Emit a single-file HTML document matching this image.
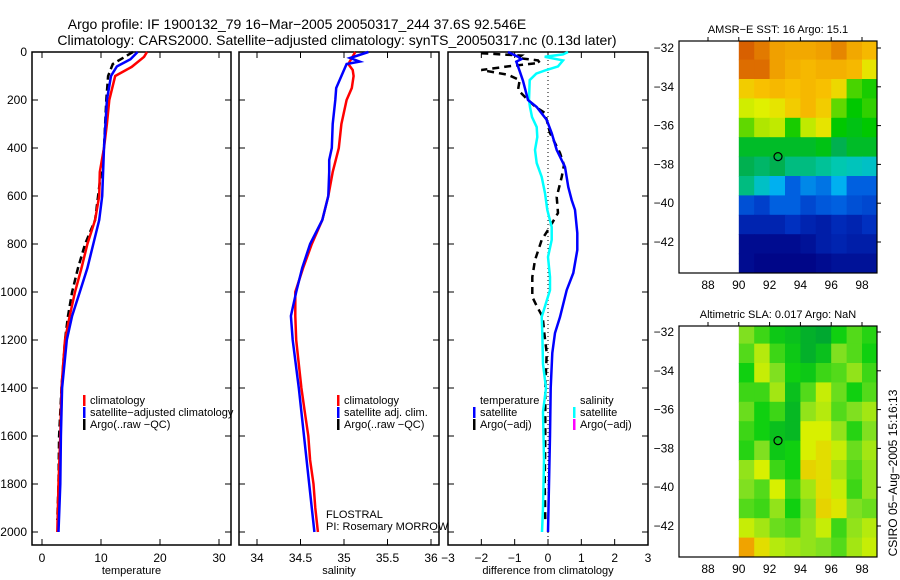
<!DOCTYPE html>
<html><head><meta charset="utf-8"><style>
body{margin:0;background:#fff}
svg{display:block}
text{font-family:"Liberation Sans",sans-serif;fill:#000}
</style></head><body>
<svg id="fig" width="900" height="580" viewBox="0 0 900 580" xmlns="http://www.w3.org/2000/svg">
<rect width="900" height="580" fill="#fff"/>
<text x="297" y="29" font-size="14" text-anchor="middle">Argo profile: IF 1900132_79 16−Mar−2005 20050317_244 37.6S 92.546E</text>
<text x="337" y="45" font-size="14" text-anchor="middle">Climatology: CARS2000. Satellite−adjusted climatology: synTS_20050317.nc (0.13d later)</text>
<g id="g1"></g>
<g id="g2"></g>
<g id="g3"></g>
<g id="m1"></g>
<g id="m2"></g>
<text x="0" y="0" font-size="12" text-anchor="middle" transform="translate(897,473) rotate(-90)">CSIRO 05−Aug−2005 15:16:13</text>
</svg>
<script>
// ---- profile data (depth m, value) ----
const tempClimDepth=[0,20,62,100,200,300,400,500,600,700,800,900,1000,1100,1200,1300,1400,1600,1800,2000];
const tempClim=[17.8,17.3,15.2,12.4,11.4,11.0,10.5,9.8,9.7,9.0,7.7,6.7,5.6,4.7,3.9,3.6,3.3,3.1,2.8,2.6];
const tempSatDepth=[0,30,60,100,200,400,600,700,800,900,1000,1100,1200,1400,1600,1800,2000];
const tempSat=[16.2,15.0,12.7,11.7,11.0,10.5,10.2,9.7,8.7,7.7,6.4,5.1,4.2,3.4,3.2,3.1,2.8];
const tempArgoDepth=[0,50,100,200,400,600,700,800,900,1000,1100,1200,1400,1600,1800,1950];
const tempArgo=[15.4,12.0,11.2,10.9,10.5,9.5,9.0,7.3,6.1,5.1,4.4,3.9,3.3,2.9,2.8,2.6];
const salClimDepth=[0,50,75,100,150,200,300,400,500,600,700,800,900,1000,1100,1200,1300,1400,1500,1600,1700,1800,1900,2000];
const salClim=[35.13,35.05,35.1,35.11,35.09,35.03,34.97,34.94,34.87,34.82,34.75,34.63,34.53,34.44,34.44,34.45,34.48,34.51,34.55,34.59,34.61,34.65,34.67,34.7];
const salSatDepth=[0,25,40,50,100,150,200,300,400,450,500,600,700,800,900,1000,1100,1200,1400,1600,1800,2000];
const salSat=[35.28,35.07,35.18,35.03,34.97,34.91,34.9,34.87,34.86,34.83,34.83,34.82,34.75,34.61,34.52,34.45,34.39,34.41,34.48,34.54,34.6,34.66];
const dTsatDepth=[0,20,30,40,80,120,200,229,283,338,408,479,563,617,658,754,825,921,992,1104,1171,1254,1400,1600,1800,2000];
const dTsat=[-1.2,-0.9,-0.8,-0.95,-0.85,-0.75,-0.6,-0.34,-0.04,0.11,0.26,0.51,0.61,0.71,0.81,0.88,0.88,0.76,0.56,0.36,0.21,0.13,0.08,0.06,0.03,0.0];
const dTargoDepth=[5,15,25,35,45,60,75,95,117,158,200,229,254,338,421,471,521,604,671,742,783,867,938,1021,1063,1104,1171,1254,1400,1600,1800,1950];
const dTargo=[-2.0,-0.8,-0.9,-0.3,-0.25,-1.2,-2.0,-1.2,-0.85,-0.9,-0.6,-0.37,-0.09,0.06,0.36,0.48,0.41,0.26,0.3,0.0,-0.19,-0.39,-0.47,-0.47,-0.32,-0.16,-0.11,-0.04,-0.08,-0.08,-0.1,-0.08];
const dSsatDepth=[0,10,20,35,60,75,90,117,200,229,271,313,354,408,463,521,588,658,729,783,854,938,992,1046,1104,1171,1300,1400,1500,1700,1900,2000];
const dSsat=[0.6,0.45,-0.1,0.45,0.3,-0.05,-0.35,-0.55,-0.57,-0.54,-0.48,-0.34,-0.32,-0.39,-0.34,-0.19,-0.09,-0.02,0.11,0.11,0.0,0.06,0.06,-0.06,-0.19,-0.17,-0.15,-0.06,-0.15,-0.12,-0.15,-0.18];
// ---- map grids: rows from north (-31.6) southward, 1 deg each; cols lon 90..99 ----
const sstGrid=[
[17.6,17.4,17.1,17,17,17.1,17.3,17,16.8],
[17.5,17.5,17.1,16.9,16.8,16.9,16.9,16.8,16.4],
[16.6,16.7,16.8,16.7,16.8,16.7,16.5,15.5,15.3],
[16.2,16.3,16.4,16.6,16.8,16.6,15.6,15.2,15.4],
[15.6,16,16.1,15.3,16.1,16.4,15.2,15.1,15.2],
[15,15,15,15,15,15.1,14.8,15,15],
[14.8,14.7,14.8,14.6,14.6,14.5,14.4,14.3,14.2],
[14.6,14.2,13.8,13.4,13.6,13.5,13.8,13.4,13.4],
[13.2,13,13.4,13.4,13.1,13.3,13.4,13.2,13.1],
[12.6,12.6,12.6,12.8,12.6,12.5,12.7,12.6,12.8],
[12.2,12.2,12.2,12.2,12.3,12.5,12.6,12.5,12.5],
[12.2,12.1,12.1,12.1,12.1,12.2,12.3,12.3,12.3]];
const slaGrid=[
[0.05,0.02,-0.01,-0.02,-0.04,-0.05,0,0.03,0.01],
[0.03,0.08,0.02,-0.01,-0.04,-0.02,0.05,0.03,0.0],
[0.0,0.09,0.05,0.0,-0.01,0.02,0.03,0.06,0.02],
[0.02,0.02,0.07,-0.02,0.03,0.09,0.04,0.0,0.03],
[0.04,0.0,0.02,-0.03,0.06,0.08,0.03,0.05,0.07],
[0.02,0.0,-0.02,-0.03,0.1,0.1,0.06,0.01,0.05],
[0.01,0.05,-0.01,0.0,0.1,0.12,0.09,0.04,0.07],
[0.06,0.1,0.02,0.0,0.13,0.12,0.07,0.03,0.06],
[0.05,0.03,0.1,0.02,0.07,0.12,0.09,0.02,0.06],
[0.03,0.02,0.06,0.0,0.05,0.13,0.11,0.05,0.04],
[0.09,0.07,0.04,0.03,0.06,0.09,0.02,0.06,0.08],
[0.18,0.12,0.08,0.07,0.06,0.05,0.03,0.07,0.09]];
const depthTicks=[0,200,400,600,800,1000,1200,1400,1600,1800,2000];
const tempTicks=[0,10,20,30];
const salTicks=[34,34.5,35,35.5,36];
const salTickLabels=["34","34.5","35","35.5","36"];
const diffTicks=[-3,-2,-1,0,1,2,3];
const lonTicks=[88,90,92,94,96,98];
const latTicks=[-32,-34,-36,-38,-40,-42];
const argoLon=92.546, argoLat=-37.6;

const NS="http://www.w3.org/2000/svg";
function mk(p,tag,a){const e=document.createElementNS(NS,tag);for(const k in a)e.setAttribute(k,a[k]);p.appendChild(e);return e;}
const yD=d=>52+d*0.24;
function panel(g,x0,x1,xs,ticks,labels,xlabel,showY){
  const r=mk(g,'rect',{x:x0,y:52,width:x1-x0,height:493,fill:'none',stroke:'#000','stroke-width':1.5});
  
  ticks.forEach((t,i)=>{const x=xs(t);
    mk(g,'line',{x1:x,x2:x,y1:545,y2:539,stroke:'#000'});mk(g,'line',{x1:x,x2:x,y1:52,y2:58,stroke:'#000'});
    const tx=mk(g,'text',{x:x,y:562,'font-size':12,'text-anchor':'middle'});tx.textContent=labels[i];
    });
  depthTicks.forEach(d=>{const y=yD(d);
    mk(g,'line',{x1:x0,x2:x0+6,y1:y,y2:y,stroke:'#000'});mk(g,'line',{x1:x1,x2:x1-6,y1:y,y2:y,stroke:'#000'});
    if(showY){const tx=mk(g,'text',{x:x0-5,y:y+4,'font-size':12,'text-anchor':'end'});tx.textContent=d;
      }});
  const xl=mk(g,'text',{x:(x0+x1)/2,y:574,'font-size':11,'text-anchor':'middle'});xl.textContent=xlabel;
  
}
function line(g,xs,D,V,col,w,dash,name){
  const pts=D.map((d,i)=>xs(V[i]).toFixed(1)+','+yD(d).toFixed(1)).join(' ');
  const p=mk(g,'polyline',{points:pts,fill:'none',stroke:col,'stroke-width':w});
  if(dash)p.setAttribute('stroke-dasharray',dash);
  
}
function legend(g,x,y,items){items.forEach((it,i)=>{
  if(it[0])mk(g,'rect',{x:x,y:y+i*12-9,width:2.5,height:11,fill:it[0]});
  const t=mk(g,'text',{x:x+7,y:y+i*12,'font-size':11});t.textContent=it[1];
  });}

const g1=document.getElementById('g1'),g2=document.getElementById('g2'),g3=document.getElementById('g3');
const xT=v=>42+v*5.9, xS=v=>257+(v-34)*87, xDf=v=>548+v*33.33;
panel(g1,32,231,xT,tempTicks,tempTicks.map(String),'temperature',true);
line(g1,xT,tempArgoDepth,tempArgo,'#000',2.5,'7,4','argo-temperature-line');
line(g1,xT,tempClimDepth,tempClim,'#f00',2.5,null,'climatology-temperature-line');
line(g1,xT,tempSatDepth,tempSat,'#00f',2.5,null,'satellite-temperature-line');
legend(g1,83,404,[['#f00','climatology'],['#00f','satellite−adjusted climatology'],['#000','Argo(..raw −QC)']]);

panel(g2,239,439,xS,salTicks,salTickLabels,'salinity',false);
line(g2,xS,salClimDepth,salClim,'#f00',2.5,null,'climatology-salinity-line');
line(g2,xS,salSatDepth,salSat,'#00f',2.5,null,'satellite-salinity-line');
legend(g2,337,404,[['#f00','climatology'],['#00f','satellite adj. clim.'],['#000','Argo(..raw −QC)']]);
const f1=mk(g2,'text',{x:326,y:518,'font-size':11});f1.textContent='FLOSTRAL';

const f2=mk(g2,'text',{x:326,y:530,'font-size':11});f2.textContent='PI: Rosemary MORROW';


panel(g3,448,648,xDf,diffTicks,diffTicks.map(v=>v<0?'−'+(-v):String(v)),'difference from climatology',false);
mk(g3,'line',{x1:xDf(0),x2:xDf(0),y1:52,y2:545,stroke:'#000','stroke-dasharray':'1,3'});
line(g3,xDf,dTargoDepth,dTargo,'#000',2.5,'7,5','argo-temperature-difference-line');
line(g3,xDf,dSsatDepth,dSsat,'#0ff',2.5,null,'satellite-salinity-difference-line');
line(g3,xDf,dTsatDepth,dTsat,'#00f',2.5,null,'satellite-temperature-difference-line');
legend(g3,473,404,[[null,'temperature'],['#00f','satellite'],['#000','Argo(−adj)']]);
legend(g3,573,404,[[null,'salinity'],['#0ff','satellite'],['#f0f','Argo(−adj)']]);

function interp(stops,v){const f=c=>'rgb('+c.join(',')+')';if(v<=stops[0][0])return f(stops[0][1]);
  for(let i=1;i<stops.length;i++){if(v<=stops[i][0]){const a=stops[i-1],b=stops[i],t=(v-a[0])/(b[0]-a[0]);
    const ca=a[1],cb=b[1];return 'rgb('+[0,1,2].map(k=>Math.round(ca[k]+(cb[k]-ca[k])*t)).join(',')+')';}}
  return f(stops[stops.length-1][1]);}
const sstStops=[[12,[0,0,128]],[12.8,[0,48,192]],[13.4,[0,96,224]],[13.8,[0,176,240]],[14.4,[0,200,176]],[14.8,[0,176,80]],[15.2,[0,200,0]],[15.8,[144,224,0]],[16.3,[224,240,0]],[16.7,[248,192,0]],[17.1,[240,160,0]],[17.6,[216,96,0]]];
const slaStops=[[-0.05,[0,168,48]],[0,[16,208,16]],[0.05,[128,224,32]],[0.1,[216,240,0]],[0.15,[240,192,0]],[0.2,[240,144,0]]];

function map(id,top,lat32,grid,stops,title,clipId){
  const g=document.getElementById(id);
  const bx0=679,bx1=877,bot=top+(id==='m1'?232:231);
  const xL=lon=>708+(lon-88)*15.4, yL=lat=>lat32+(-32-lat)*19.4;
  const cp=mk(g,'clipPath',{id:clipId});mk(cp,'rect',{x:bx0,y:top,width:bx1-bx0,height:bot-top});
  const cg=mk(g,'g',{'clip-path':'url(#'+clipId+')'});
  grid.forEach((row,r)=>row.forEach((v,c)=>{
    const x=xL(90+c),y=yL(-31.6-r);
    const cell=mk(cg,'rect',{x:x.toFixed(1),y:y.toFixed(1),width:16,height:20,fill:interp(stops,v)});
    }));
  mk(g,'rect',{x:bx0,y:top,width:bx1-bx0,height:bot-top,fill:'none',stroke:'#000','stroke-width':1.2});
  lonTicks.forEach(l=>{const x=xL(l);mk(g,'line',{x1:x,x2:x,y1:top,y2:top-4,stroke:'#000'});
    const t=mk(g,'text',{x:x,y:bot+16,'font-size':12,'text-anchor':'middle'});t.textContent=l;
    });
  latTicks.forEach(l=>{const y=yL(l);mk(g,'line',{x1:bx1,x2:bx1+4,y1:y,y2:y,stroke:'#000'});
    const t=mk(g,'text',{x:bx0-5,y:y+4,'font-size':12,'text-anchor':'end'});t.textContent='−'+(-l);
    });
  const tt=mk(g,'text',{x:(bx0+bx1)/2,y:top-8,'font-size':11,'text-anchor':'middle'});tt.textContent=title;
  
  const c=mk(g,'circle',{cx:xL(argoLon),cy:yL(argoLat),r:4,fill:'none',stroke:'#000','stroke-width':1.2});
  
}
map('m1',41,48,sstGrid,sstStops,'AMSR−E SST: 16 Argo: 15.1','clip1');
map('m2',326,332,slaGrid,slaStops,'Altimetric SLA: 0.017 Argo: NaN','clip2');
</script>
</body></html>
